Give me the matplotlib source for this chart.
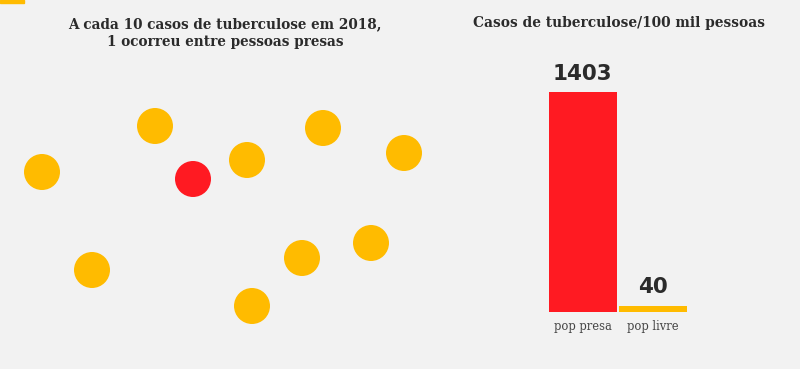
import matplotlib
matplotlib.use('Agg')
import matplotlib.pyplot as plt

# circles (pixel-like positions on the left panel, y from top)
dot_x = [42, 155, 193, 247, 323, 404, 92, 302, 371, 252]
dot_y = [172, 126, 179, 160, 128, 153, 270, 258, 243, 306]
dot_is_prisoner = [0, 0, 1, 0, 0, 0, 0, 0, 0, 0]

categories = ['pop presa', 'pop livre']
rates = [1403, 40]

bg = '#f2f2f2'
yellow = '#ffbb00'
red = '#ff1a22'
dark = '#2b2b2b'

W, H = 800, 369
fig = plt.figure(figsize=(8, 3.69), dpi=100, facecolor=bg)

# small yellow tab in the corner
fig.patches.append(plt.Rectangle((0, 1 - 3 / H), 24 / W, 3 / H, transform=fig.transFigure,
                                 color=yellow, zorder=0))

# left panel: dots
ax1 = fig.add_axes([0, 0, 440 / W, 1])
ax1.set_facecolor(bg)
ax1.set_xlim(0, 440)
ax1.set_ylim(H, 0)
colors = [red if p else yellow for p in dot_is_prisoner]
ax1.scatter(dot_x, dot_y, s=(36 * 0.72) ** 2, c=colors, linewidths=0)
ax1.axis('off')

fig.text(225 / W, 1 - 33 / H, 'A cada 10 casos de tuberculose em 2018,\n1 ocorreu entre pessoas presas',
         ha='center', va='center', fontsize=9.8, fontweight='bold', family='DejaVu Serif',
         color=dark, linespacing=1.3)

fig.text(619 / W, 1 - 23 / H, 'Casos de tuberculose/100 mil pessoas',
         ha='center', va='center', fontsize=9.9, fontweight='bold', family='DejaVu Serif',
         color=dark)

# right panel: bars
ax2 = fig.add_axes([547.5 / W, 57 / H, 141 / W, 220 / H])
ax2.set_facecolor(bg)
xs = range(len(categories))
ax2.bar(xs, rates, width=0.97, color=[red, yellow])
ax2.set_xlim(-0.5, 1.5)
ax2.set_ylim(0, 1403)
for x, v in zip(xs, rates):
    ax2.annotate(str(v), (x, v), xytext=(0, 6), textcoords='offset points',
                 ha='center', va='bottom', fontsize=15.5, fontweight='bold', color=dark)
ax2.set_xticks(list(xs))
ax2.set_xticklabels(categories, family='DejaVu Serif', fontsize=8.3, color='#444444')
ax2.tick_params(axis='x', length=0, pad=6)
ax2.set_yticks([])
for s in ax2.spines.values():
    s.set_visible(False)

fig.savefig('out.png', dpi=100, facecolor=bg)
